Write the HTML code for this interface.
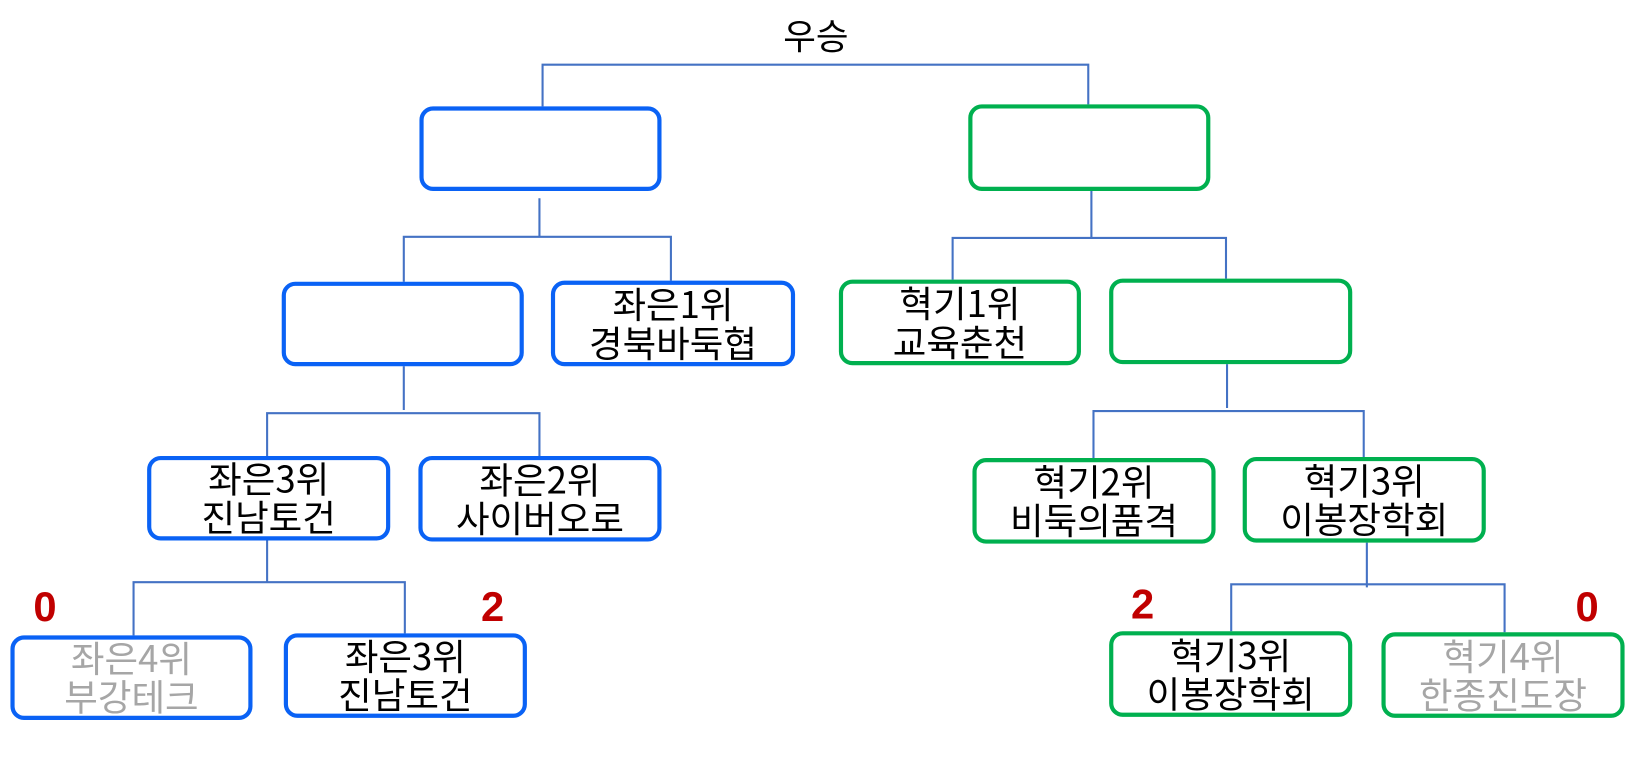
<!DOCTYPE html>
<html><head><meta charset="utf-8"><style>
html,body{margin:0;padding:0;background:#fff;}
body{width:1635px;height:759px;overflow:hidden;position:relative;font-family:"Liberation Sans","Noto Sans CJK KR",sans-serif;}
#w{position:absolute;left:0;top:0;width:1567px;height:727px;transform:scale(1.0434);transform-origin:0 0;}
.b{position:absolute;box-sizing:border-box;border:4.5px solid #0a62f5;border-radius:13px;display:flex;flex-direction:column;align-items:center;justify-content:center;font-size:35px;line-height:37px;color:#000;font-family:"Noto Sans CJK KR","Liberation Sans",sans-serif;padding-bottom:3px;}
.g{border-color:#00b04f;}
.gray{color:#a6a6a6;}
.s{position:absolute;font-size:40px;font-weight:bold;color:#c00000;line-height:40px;}
</style></head><body><div id="w">
<svg width="1567" height="727" style="position:absolute;left:0;top:0" fill="none" stroke="#4472c4" stroke-width="2">
<path d="M520 102V62H1043V100"/>
<path d="M517 190V227M387 270V227H643V269"/>
<path d="M1046 183V227M913 268V228H1175V267"/>
<path d="M387 351V393M256 437V396H517V437"/>
<path d="M1176 349V391M1048 439V394H1307V438"/>
<path d="M256 518V558M128 609V558H388V607"/>
<path d="M1310 520V563M1180 605V560H1442V606"/>
</svg>
<div style="position:absolute;left:730px;top:13px;width:104px;text-align:center;font-size:34px;line-height:40px;font-family:'Noto Sans CJK KR',sans-serif">우승</div>
<div class="b" style="left:402px;top:102px;width:232px;height:81px"></div>
<div class="b g" style="left:928px;top:100px;width:232px;height:83px"></div>
<div class="b" style="left:270px;top:270px;width:232px;height:81px"></div>
<div class="b" style="left:528px;top:269px;width:234px;height:82px"><div>좌은1위</div><div>경북바둑협</div></div>
<div class="b g" style="left:804px;top:268px;width:232px;height:82px"><div>혁기1위</div><div>교육춘천</div></div>
<div class="b g" style="left:1063px;top:267px;width:233px;height:82px"></div>
<div class="b" style="left:141px;top:437px;width:233px;height:81px"><div>좌은3위</div><div>진남토건</div></div>
<div class="b" style="left:401px;top:437px;width:233px;height:82px"><div>좌은2위</div><div>사이버오로</div></div>
<div class="b g" style="left:932px;top:439px;width:233px;height:82px"><div>혁기2위</div><div>비둑의품격</div></div>
<div class="b g" style="left:1191px;top:438px;width:233px;height:82px"><div>혁기3위</div><div>이봉장학회</div></div>
<div class="b gray" style="left:10px;top:609px;width:232px;height:81px"><div>좌은4위</div><div>부강테크</div></div>
<div class="b" style="left:272px;top:607px;width:233px;height:81px"><div>좌은3위</div><div>진남토건</div></div>
<div class="b g" style="left:1063px;top:605px;width:233px;height:82px"><div>혁기3위</div><div>이봉장학회</div></div>
<div class="b g gray" style="left:1324px;top:606px;width:233px;height:82px"><div>혁기4위</div><div>한종진도장</div></div>
<div class="s" style="left:32px;top:562px">0</div>
<div class="s" style="left:461px;top:562px">2</div>
<div class="s" style="left:1084px;top:560px">2</div>
<div class="s" style="left:1510px;top:562px">0</div>
</div></body></html>
